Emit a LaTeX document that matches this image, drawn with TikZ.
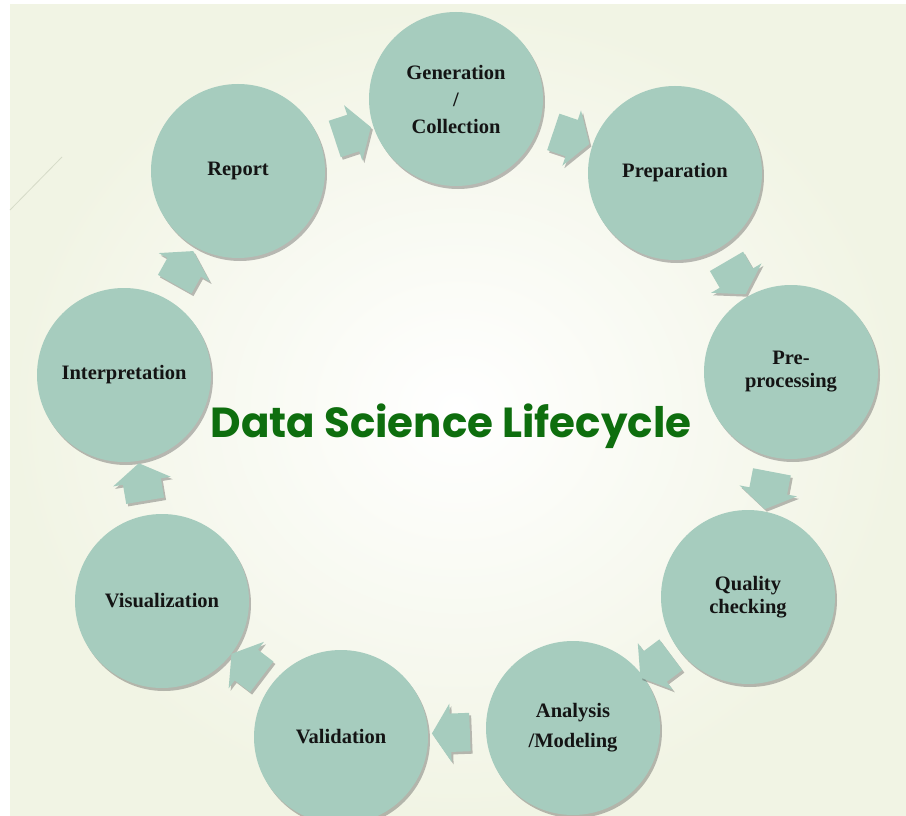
\documentclass[tikz,border=0pt]{standalone}
\usepackage{fontspec}
\setmainfont{Liberation Serif}
\newfontfamily\titlefont{Poppins}
\usetikzlibrary{shapes.arrows,shadows,calc}
\definecolor{circ}{HTML}{A6CCBE}
\definecolor{bgout}{HTML}{F1F4E4}
\definecolor{ttl}{HTML}{0E6E0E}
\definecolor{faint}{HTML}{D6DBC8}
\begin{document}
\begin{tikzpicture}[x=1pt,y=-1pt,
  stage/.style={circle, minimum size=174pt, inner sep=0pt, fill=circ, align=center,
    font=\bfseries\fontsize{20.5}{23}\selectfont, text=black!92,
    drop shadow={shadow xshift=2pt, shadow yshift=-3pt, opacity=0.35, fill=black!75}},
  flow/.style={single arrow, fill=circ, minimum height=38pt, inner xsep=0pt, inner ysep=19pt,
    single arrow head extend=10pt, single arrow tip angle=115,
    drop shadow={shadow xshift=2pt, shadow yshift=-2.5pt, opacity=0.35, fill=black!75}},
  title/.style={font=\titlefont\bfseries\fontsize{42}{48}\selectfont, text=ttl, anchor=base}]
\useasboundingbox (0,0) rectangle (906,816);
\fill[white] (0,0) rectangle (906,816);
\shade[inner color=white, outer color=bgout] (10,5) rectangle (906,816);
\draw[faint, line width=0.8pt] (10,210) -- (62,157);

\node[stage] (gen)  at (456,99)  {Generation\\[4pt]/\\[4pt]Collection};
\node[stage] (prep) at (675,173) {Preparation};
\node[stage] (pre)  at (791,372) {Pre-\\processing};
\node[stage] (qual) at (748,597) {Quality\\checking};
\node[stage] (ana)  at (573,728) {Analysis\\[7pt]/Modeling};
\node[stage] (val)  at (341,737) {Validation};
\node[stage] (vis)  at (162,601) {Visualization};
\node[stage] (int)  at (124,375) {Interpretation};
\node[stage] (rep)  at (238,171) {Report};

\foreach \a/\b in {rep/gen, gen/prep, prep/pre, pre/qual, qual/ana, ana/val, val/vis, vis/int, int/rep}
  \path let \p1=($(\b)-(\a)$), \n1={atan2(\y1,\x1)} in
    node[flow, rotate=\n1] (arr-\a) at ($(\a)!0.5!(\b)$) {};

\node[title] (ttl) at (451,437) {Data Science Lifecycle};
\end{tikzpicture}
\end{document}
